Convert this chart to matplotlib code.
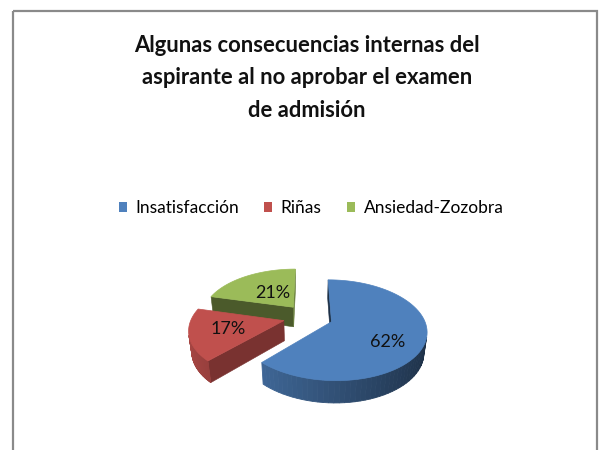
import numpy as np
import matplotlib
matplotlib.use("Agg")
import matplotlib.pyplot as plt
from matplotlib.patches import Polygon, Rectangle, Patch
from matplotlib.colors import to_rgb

title = "Algunas consecuencias internas del\naspirante al no aprobar el examen\nde admisión"
categories = ["Insatisfacción", "Riñas", "Ansiedad-Zozobra"]
values = [62, 17, 21]
top_colors = ["#4F81BD", "#C0504D", "#9BBB59"]

# pie layout (pixels) and camera
CX, CY = 308, 317
SCALE = 92
ELEV = np.radians(31)
DIST = 5.2
THICK = 0.26
EXPLODE = 0.27
LABEL_R = [0.67, 0.6, 0.42]
LABEL_TURN = [-14, 0, 0]

c_el, s_el = np.cos(ELEV), np.sin(ELEV)
cam = np.array([0.0, -DIST * c_el, DIST * s_el])


def project(x, y, z):
    vy = y + DIST * c_el
    vz = z - DIST * s_el
    depth = vy * c_el - vz * s_el
    up = vy * s_el + vz * c_el
    return CX + SCALE * x * DIST / depth, CY - SCALE * up * DIST / depth


def shade(color, f):
    return tuple(min(1.0, ch * f) for ch in to_rgb(color))


def faces_camera(point, normal):
    return np.dot(cam - np.array(point), normal) > 0


fig = plt.figure(figsize=(6.02, 4.5), dpi=100)
ax = fig.add_axes([0, 0, 1, 1])
ax.set_xlim(0, 602)
ax.set_ylim(450, 0)
ax.axis("off")

ax.add_patch(Rectangle((13, 11), 584, 470, fill=False, edgecolor="#8a8a8a",
                       linewidth=1.6, clip_on=False))

ax.text(307, 78, title, ha="center", va="center", fontsize=15.8,
        fontweight="bold", family="Lato", linespacing=1.7, color="#111111")

total = float(sum(values))
bounds = 90 - 360 * np.concatenate([[0], np.cumsum(values)]) / total

slices = []
for i in range(len(values)):
    a1, a2 = np.radians(bounds[i]), np.radians(bounds[i + 1])
    mid = (a1 + a2) / 2
    ox, oy = EXPLODE * np.cos(mid), EXPLODE * np.sin(mid)
    slices.append((oy, i, a1, a2, mid, ox))

# back slices first
for oy, i, a1, a2, mid, ox in sorted(slices, key=lambda s: -s[0]):
    col = top_colors[i]
    th = np.linspace(a1, a2, 80)
    rx, ry = ox + np.cos(th), oy + np.sin(th)

    # flat cut faces
    for a, n in [(a1, (-np.sin(a1), np.cos(a1), 0)), (a2, (np.sin(a2), -np.cos(a2), 0))]:
        if not faces_camera((ox, oy, 0), n):
            continue
        ex, ey = ox + np.cos(a), oy + np.sin(a)
        pts = [project(ox, oy, 0), project(ex, ey, 0),
               project(ex, ey, -THICK), project(ox, oy, -THICK)]
        f = 0.52 + 0.15 * n[0]
        ax.add_patch(Polygon(pts, closed=True, facecolor=shade(col, f),
                             edgecolor=shade(col, f), linewidth=0.4))

    # curved outer wall
    for k in range(len(th) - 1):
        tm = (th[k] + th[k + 1]) / 2
        n = (np.cos(tm), np.sin(tm), 0)
        if not faces_camera((ox + n[0], oy + n[1], 0), n):
            continue
        pts = [project(rx[k], ry[k], 0), project(rx[k + 1], ry[k + 1], 0),
               project(rx[k + 1], ry[k + 1], -THICK), project(rx[k], ry[k], -THICK)]
        f = 0.62 - 0.25 * np.cos(tm)
        ax.add_patch(Polygon(pts, closed=True, facecolor=shade(col, f),
                             edgecolor=shade(col, f), linewidth=0.6))

    # top
    top = [project(ox, oy, 0)] + [project(x, y, 0) for x, y in zip(rx, ry)]
    ax.add_patch(Polygon(top, closed=True, facecolor=col, edgecolor=col, linewidth=0.5))

    la = mid + np.radians(LABEL_TURN[i])
    lx, ly = project(ox + LABEL_R[i] * np.cos(la), oy + LABEL_R[i] * np.sin(la), 0)
    pct = 100 * values[i] / total
    ax.text(lx, ly, f"{pct:.0f}%", ha="center", va="center", fontsize=13,
            family="Lato", color="#111111")

handles = [Patch(facecolor=c, edgecolor="none") for c in top_colors]
fig.legend(handles, categories, loc="center", bbox_to_anchor=(311 / 602, 1 - 208 / 450),
           ncol=3, frameon=False, handlelength=0.46, handleheight=0.46,
           handletextpad=0.5, columnspacing=1.45, prop={"family": "Lato", "size": 12.5})

fig.savefig("out.png", dpi=100)
